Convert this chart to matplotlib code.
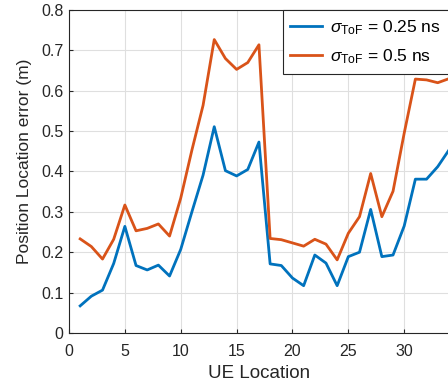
import matplotlib
matplotlib.use("Agg")
import matplotlib.pyplot as plt
import numpy as np

plt.rcParams['font.family'] = ['Liberation Sans', 'DejaVu Sans']
plt.rcParams['mathtext.fontset'] = 'custom'
plt.rcParams['mathtext.rm'] = 'Liberation Sans'
plt.rcParams['mathtext.it'] = 'Liberation Sans:italic'

ue_location = list(range(1, 35))
err_025 = [0.067, 0.091, 0.106, 0.172, 0.264, 0.167, 0.156, 0.168, 0.141, 0.207,
           0.300, 0.391, 0.511, 0.402, 0.389, 0.405, 0.473, 0.171, 0.167, 0.136,
           0.117, 0.193, 0.173, 0.117, 0.189, 0.200, 0.306, 0.189, 0.193, 0.265,
           0.381, 0.381, 0.412, 0.453]
err_05 = [0.233, 0.214, 0.183, 0.232, 0.317, 0.253, 0.259, 0.270, 0.240, 0.334,
          0.453, 0.564, 0.727, 0.680, 0.653, 0.670, 0.714, 0.234, 0.231, 0.223,
          0.215, 0.232, 0.220, 0.181, 0.247, 0.288, 0.395, 0.288, 0.351, 0.495,
          0.629, 0.627, 0.620, 0.630]
labels = [r'$\sigma_{\mathrm{ToF}}$ = 0.25 ns', r'$\sigma_{\mathrm{ToF}}$ = 0.5 ns']
colors = ['#0072BD', '#D95319']
xticks = [0, 5, 10, 15, 20, 25, 30]
yticks = [0, 0.1, 0.2, 0.3, 0.4, 0.5, 0.6, 0.7, 0.8]
ytick_labels = ['0', '0.1', '0.2', '0.3', '0.4', '0.5', '0.6', '0.7', '0.8']

fig = plt.figure(figsize=(4.48, 3.88), dpi=100)
ax = fig.add_axes([0.154, 0.142, 0.848, 0.832])

ax.plot(ue_location, err_025, color=colors[0], lw=2.0, label=labels[0])
ax.plot(ue_location, err_05, color=colors[1], lw=2.0, label=labels[1])

ax.set_xlim(0, 34)
ax.set_ylim(0, 0.8)
ax.set_xticks(xticks)
ax.set_yticks(yticks)
ax.set_yticklabels(ytick_labels)
ax.grid(True, color='#dfdfdf', lw=0.8)
ax.set_axisbelow(True)
ax.tick_params(direction='in', length=3, labelsize=11.5, colors='#262626')
ax.tick_params(axis='x', pad=8)
ax.tick_params(axis='y', pad=4)
for s in ax.spines.values():
    s.set_color('#262626')
    s.set_linewidth(0.8)

ax.set_xlabel('UE Location', fontsize=13.5, color='#262626', labelpad=4)
ax.set_ylabel('Position Location error (m)', fontsize=12.5, color='#262626')
ax.yaxis.set_label_coords(-0.097, 0.532)

leg = ax.legend(loc='upper right', fontsize=12.5, fancybox=False, framealpha=1,
                edgecolor='#262626', borderaxespad=0.0, handlelength=1.85,
                handletextpad=0.45, borderpad=0.45, labelspacing=0.6)
leg.get_frame().set_linewidth(0.8)

fig.savefig('out.png', dpi=100)
